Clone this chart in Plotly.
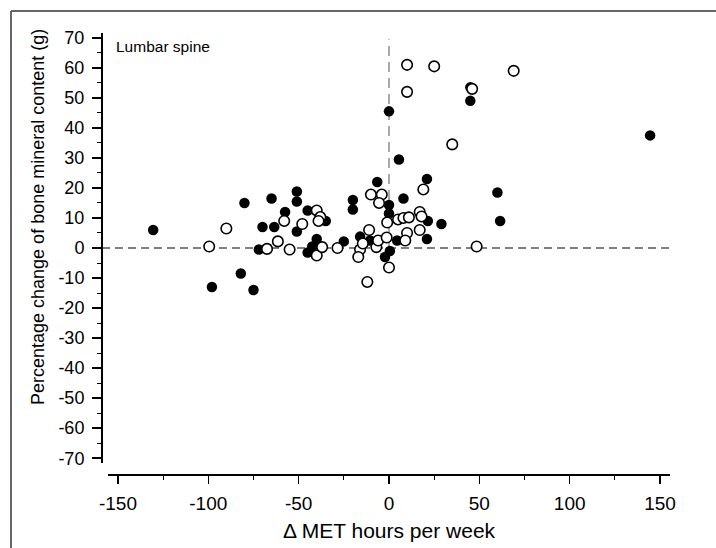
import plotly.graph_objects as go

# Filled circles
solid_x = [-130.5, -98, -82, -80, -75, -72, -70, -65, -63.5, -57.5, -51, -51, -51, -45, -45,
           -42.5, -40, -35, -25, -20, -20, -16, -10.5, -6.5, 0, 0, 0, 0.5, -2.2, 4.5, 5.5, 8,
           21, 21.5, 21, 29, 45, 45, 60, 61.5, 144.5]
solid_y = [6, -13, -8.5, 15, -14, -0.5, 7, 16.5, 7, 12, 18.8, 15.5, 5.5, 12.5, -1.5,
           0.5, 3, 9, 2.2, 16, 12.8, 3.8, 2.5, 22, 45.5, 14.3, 11.5, -1, -3, 2.5, 29.5, 16.5,
           23, 9, 3, 8, 53.5, 49, 18.5, 9, 37.5]

# Open circles
open_x = [-99.5, -90, -67.5, -61.5, -55, -58, -48, -40, -38, -39, -40, -37, -28.5, -16, -17,
          -14.5, -12, -11, -10, -4, -5.5, -7, -6, -1, -1.3, 0, 5, 8, 11, 17, 18, 19, 17, 10,
          9, 10, 10, 25, 46, 35, 69, 48.5]
open_y = [0.5, 6.5, -0.3, 2.2, -0.5, 9, 8, 12.5, 10.3, 9, -2.5, 0.3, 0, -0.5, -3,
          1.5, -11.3, 6, 17.8, 17.8, 15, 0.3, 2.5, 8.5, 3.5, -6.5, 9.5, 10, 10.2, 12, 10.5, 19.5, 6, 5,
          2.5, 61, 52, 60.5, 53, 34.5, 59, 0.5]

x_ticks = [-150, -100, -50, 0, 50, 100, 150]
y_ticks = [70, 60, 50, 40, 30, 20, 10, 0, -10, -20, -30, -40, -50, -60, -70]

FONT = "Liberation Sans, Arial, sans-serif"

fig = go.Figure()
fig.add_trace(go.Scatter(x=solid_x, y=solid_y, mode="markers",
                         marker=dict(size=10.5, color="black", line=dict(width=0)),
                         showlegend=False, hoverinfo="skip"))
fig.add_trace(go.Scatter(x=open_x, y=open_y, mode="markers",
                         marker=dict(size=10.5, color="white", line=dict(width=1.6, color="black")),
                         showlegend=False, hoverinfo="skip"))

W, H = 716, 548
L, R, T, B = 102, 46, 33, 73
pw, ph = W - L - R, H - T - B

def px(xp):
    return (xp - L) / pw

def py(yp):
    return (H - B - yp) / ph

# reference lines
fig.add_shape(type="line", xref="paper", yref="y", x0=0, x1=1, y0=0, y1=0,
              line=dict(color="#555555", width=1.5, dash="8px,5px"), layer="below")
fig.add_shape(type="line", xref="x", yref="y", x0=0, x1=0, y0=0, y1=69.5,
              line=dict(color="#555555", width=1, dash="10px,6px"), layer="below")
# outer frame (top and left edges; the rest lies outside the picture)
fig.add_shape(type="line", xref="paper", yref="paper", x0=px(11), x1=px(740), y0=py(11), y1=py(11),
              line=dict(color="#666666", width=2))
fig.add_shape(type="line", xref="paper", yref="paper", x0=px(11), x1=px(11), y0=py(11), y1=py(560),
              line=dict(color="#666666", width=2))

fig.add_annotation(text="Lumbar spine", xref="paper", yref="paper", x=px(114), y=py(46),
                   xanchor="left", yanchor="middle", showarrow=False,
                   font=dict(family=FONT, size=15.5, color="black"))
fig.add_annotation(text="Percentage change of bone mineral content (g)", xref="paper", yref="paper",
                   x=px(38), y=py(217), textangle=-90, xanchor="center", yanchor="middle",
                   showarrow=False, font=dict(family=FONT, size=18, color="black"))
fig.add_annotation(text="Δ MET hours per week", xref="paper", yref="paper",
                   x=px(389), y=py(530), xanchor="center", yanchor="middle",
                   showarrow=False, font=dict(family=FONT, size=21, color="black"))

fig.update_layout(
    width=W, height=H,
    margin=dict(l=L, r=R, t=T, b=B, pad=0),
    paper_bgcolor="white", plot_bgcolor="white",
    font=dict(family=FONT, size=18, color="black"),
    hovermode=False,
    xaxis=dict(domain=[px(108), 1], range=[-155.5, 155.5], anchor="free", position=0,
               tickvals=x_ticks, ticktext=[str(v) for v in x_ticks],
               ticks="outside", ticklen=8, tickwidth=1.5, tickcolor="black",
               minor=dict(dtick=25, tick0=0, ticks="outside", ticklen=4, tickwidth=1, tickcolor="black"),
               showline=True, linewidth=2, linecolor="black", showgrid=False, zeroline=False,
               ticklabelstandoff=3,
               tickfont=dict(family=FONT, size=19)),
    yaxis=dict(domain=[py(463), 1], range=[-71.6, 71.6], anchor="free", position=0,
               tickvals=y_ticks, ticktext=[str(v) for v in y_ticks],
               ticks="outside", ticklen=9, tickwidth=1.5, tickcolor="black",
               minor=dict(dtick=5, tick0=0, ticks="outside", ticklen=4, tickwidth=1, tickcolor="black"),
               showline=True, linewidth=2, linecolor="black", showgrid=False, zeroline=False,
               ticklabelstandoff=4,
               tickfont=dict(family=FONT, size=18)),
)

fig.write_html("out.html", config={"displayModeBar": False, "staticPlot": True},
               post_script="document.documentElement.style.margin='0';document.body.style.margin='0';"
                           "document.body.style.overflow='hidden';document.documentElement.style.overflow='hidden';")
